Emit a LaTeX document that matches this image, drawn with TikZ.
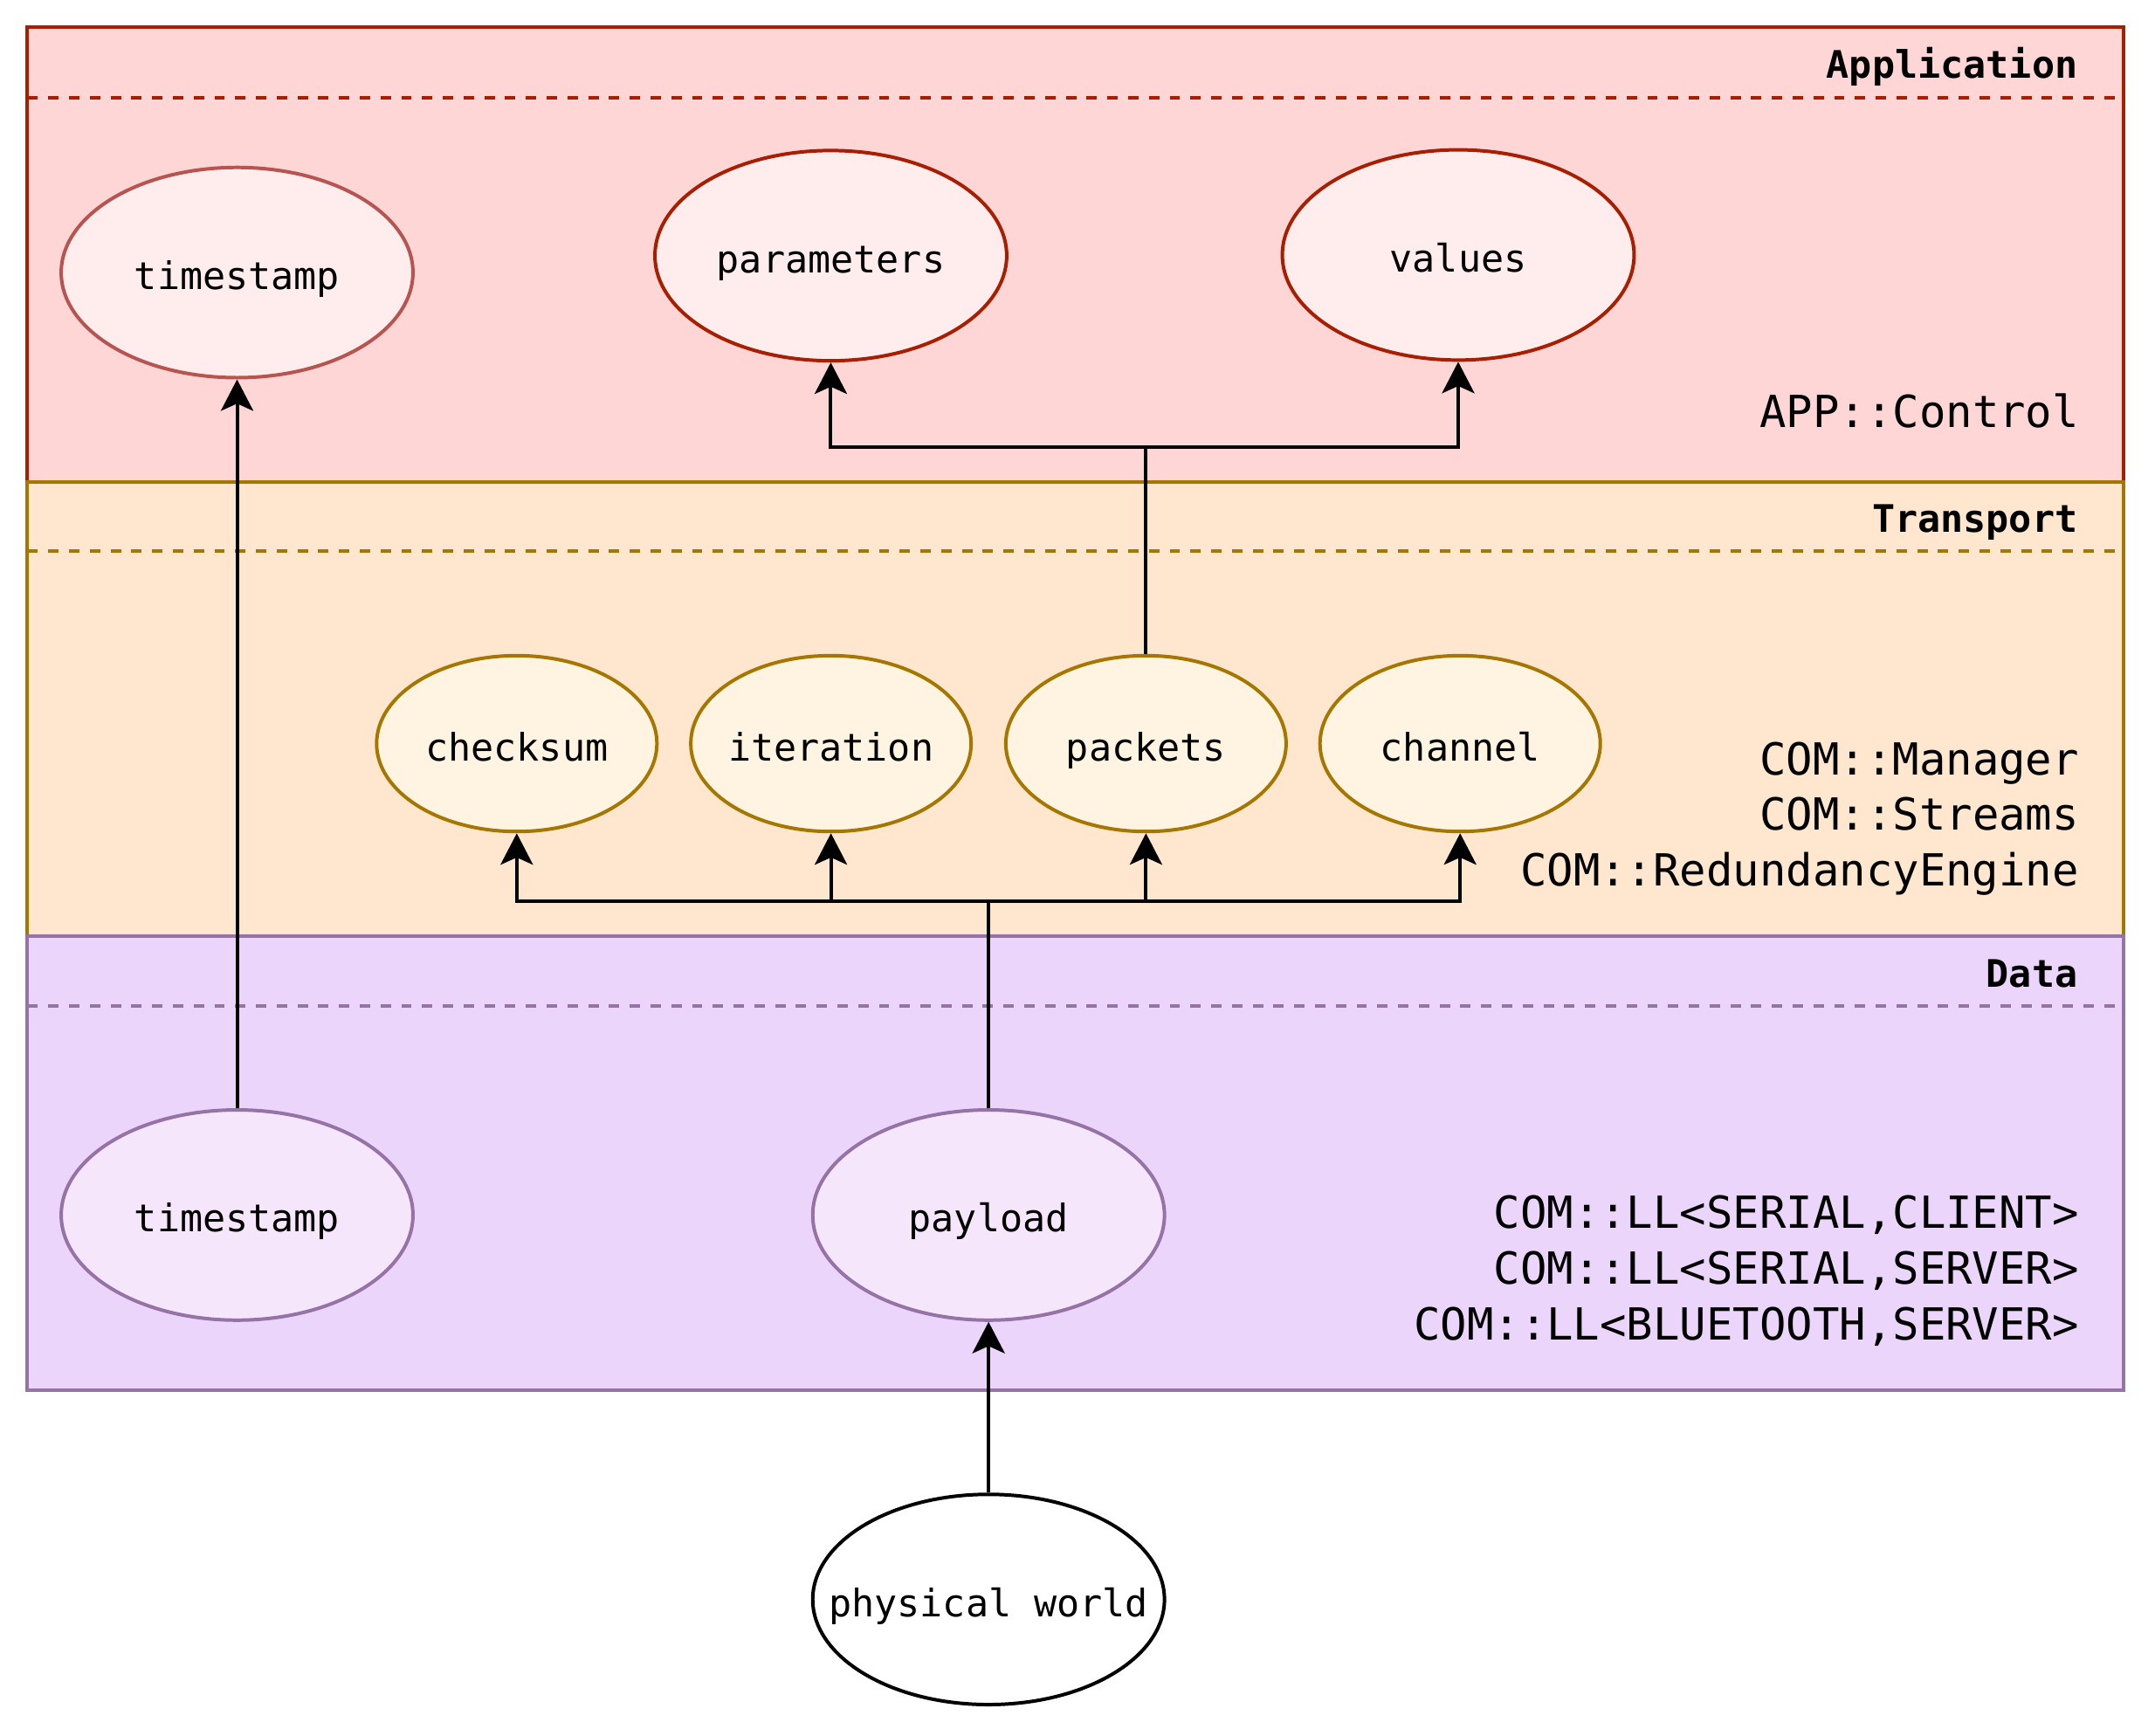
\documentclass[tikz,border=0pt]{standalone}
\usepackage{fontspec}
\newfontfamily\diagfont{DejaVu Sans Mono}
\usetikzlibrary{arrows.meta,shapes.geometric}

\definecolor{appfill}{HTML}{FFD6D6}
\definecolor{appline}{HTML}{A81E00}
\definecolor{appnode}{HTML}{FFECEC}
\definecolor{tsline}{HTML}{B85450}
\definecolor{trfill}{HTML}{FFE6CE}
\definecolor{trline}{HTML}{A67700}
\definecolor{trnode}{HTML}{FFF3E2}
\definecolor{datafill}{HTML}{EBD5FA}
\definecolor{dataline}{HTML}{9673A6}
\definecolor{datanode}{HTML}{F6E6FB}

\begin{document}
\begin{tikzpicture}[x=0.02cm, y=-0.02cm,
	layerbox/.style={line width=1.44pt},
	sepline/.style={line width=1.44pt, dash pattern=on 4.3pt off 4.3pt},
	bubble/.style={ellipse, line width=1.44pt, inner sep=0pt,
		minimum width=5.12cm, minimum height=3.06cm,
		font=\diagfont\fontsize{15.7}{19}\selectfont,
		text height=16.5pt, text depth=2.4pt},
	smallbubble/.style={bubble, minimum width=4.08cm, minimum height=2.56cm},
	layertitle/.style={anchor=base east, inner sep=0pt,
		font=\diagfont\bfseries\fontsize{15.7}{19}\selectfont},
	modulelist/.style={anchor=base east, align=right, inner sep=0pt,
		font=\diagfont\fontsize{18.3}{23}\selectfont},
	link/.style={line width=1.44pt},
	arrowlink/.style={link, -{Stealth[length=13pt, width=13.4pt, inset=3pt]}}]
	
	\useasboundingbox (0,0) rectangle (1568,1263);
	
	% layers
	\draw[layerbox, draw=appline, fill=appfill] (20,20) rectangle (1545,350.5);
	\draw[sepline, draw=appline] (20,71) -- (1545,71);
	\node[layertitle] (tapp) at (1512,57) {Application};
	\node[modulelist] (mapp) at (1513,311) {APP::Control};
	
	\draw[layerbox, draw=trline, fill=trfill] (20,350.5) rectangle (1545,681);
	\draw[sepline, draw=trline] (20,401) -- (1545,401);
	\node[layertitle] (ttr) at (1512,387.5) {Transport};
	\node[modulelist] (mtr) at (1513,644.5) {COM::Manager\\COM::Streams\\COM::RedundancyEngine};
	
	\draw[layerbox, draw=dataline, fill=datafill] (20,681) rectangle (1545,1011.3);
	\draw[sepline, draw=dataline] (20,731.7) -- (1545,731.7);
	\node[layertitle] (tdata) at (1512,718) {Data};
	\node[modulelist] (mdata) at (1513,974.7) {COM::LL<SERIAL,CLIENT>\\COM::LL<SERIAL,SERVER>\\COM::LL<BLUETOOTH,SERVER>};
	
	% nodes
	\node[bubble, draw=tsline, fill=appnode] (tsa) at (172.5,198.3) {\makebox[0pt]{timestamp}};
	\node[bubble, draw=appline, fill=appnode] (par) at (604.5,186) {\makebox[0pt]{parameters}};
	\node[bubble, draw=appline, fill=appnode] (val) at (1061,185.5) {\makebox[0pt]{values}};
	
	\node[smallbubble, draw=trline, fill=trnode] (chk) at (376,541) {\makebox[0pt]{checksum}};
	\node[smallbubble, draw=trline, fill=trnode] (itr) at (604.6,541) {\makebox[0pt]{iteration}};
	\node[smallbubble, draw=trline, fill=trnode] (pkt) at (833.8,541) {\makebox[0pt]{packets}};
	\node[smallbubble, draw=trline, fill=trnode] (chn) at (1062.4,541) {\makebox[0pt]{channel}};
	
	\node[bubble, draw=dataline, fill=datanode] (tsd) at (172.5,884) {\makebox[0pt]{timestamp}};
	\node[bubble, draw=dataline, fill=datanode] (pay) at (719.3,884) {\makebox[0pt]{payload}};
	
	\node[bubble, draw=black, fill=white] (phy) at (719.3,1163.7) {\makebox[0pt]{physical world}};
	
	% connectors
	\coordinate (tbus) at (0,655.5);
	\coordinate (abus) at (0,325.3);
	\foreach \n in {chk,itr,pkt,chn}
		\draw[arrowlink] (pay.north) -- (pay.north |- tbus) -| (\n.south);
	\foreach \n in {par,val}
		\draw[arrowlink] (pkt.north) -- (pkt.north |- abus) -| (\n.south);
	\draw[arrowlink] (tsd.north) -- (tsa.south);
	\draw[arrowlink] (phy.north) -- (pay.south);
	
\end{tikzpicture}
\end{document}
